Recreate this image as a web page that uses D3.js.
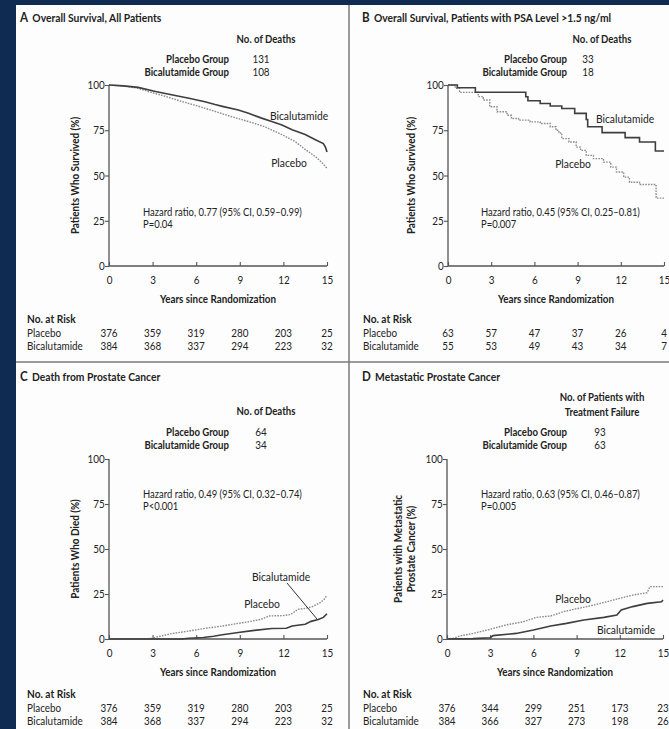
<!DOCTYPE html>
<html><head><meta charset="utf-8">
<script src="https://cdn.jsdelivr.net/npm/d3@7"></script>
<style>
html,body{margin:0;padding:0;background:#0f2b52;}
svg{display:block;}
text{font-family:Lato,"Open Sans",sans-serif;fill:#222;}
</style></head><body><svg id="c" width="669" height="729"></svg>
<script>
// ---------- DATA ----------
const riskYears = [0, 3, 6, 9, 12, 15];
const yTicks = [0, 25, 50, 75, 100];
const groupNames = ["Placebo Group", "Bicalutamide Group"];
const riskRowNames = ["Placebo", "Bicalutamide"];

const titlesA = ["A", "Overall Survival, All Patients"];
const titlesB = ["B", "Overall Survival, Patients with PSA Level >1.5 ng/ml"];
const titlesC = ["C", "Death from Prostate Cancer"];
const titlesD = ["D", "Metastatic Prostate Cancer"];

const eventsA = [131, 108];
const eventsB = [33, 18];
const eventsC = [64, 34];
const eventsD = [93, 63];

const hazardA = ["Hazard ratio, 0.77 (95% CI, 0.59\u20130.99)", "P=0.04"];
const hazardB = ["Hazard ratio, 0.45 (95% CI, 0.25\u20130.81)", "P=0.007"];
const hazardC = ["Hazard ratio, 0.49 (95% CI, 0.32\u20130.74)", "P<0.001"];
const hazardD = ["Hazard ratio, 0.63 (95% CI, 0.46\u20130.87)", "P=0.005"];

const riskA_placebo = [376, 359, 319, 280, 203, 25];
const riskA_bical   = [384, 368, 337, 294, 223, 32];
const riskB_placebo = [63, 57, 47, 37, 26, 4];
const riskB_bical   = [55, 53, 49, 43, 34, 7];
const riskC_placebo = [376, 359, 319, 280, 203, 25];
const riskC_bical   = [384, 368, 337, 294, 223, 32];
const riskD_placebo = [376, 344, 299, 251, 173, 23];
const riskD_bical   = [384, 366, 327, 273, 198, 26];

// [years, percent]
const curveA_bical = [[0,100],[1,99.5],[2,98.7],[3.2,96.4],[4.3,94.6],[5.5,92.7],[6.6,90.8],[7.3,89.2],[7.8,88.2],[8.9,86.2],[9.6,84.4],[10.5,81.7],[11.2,79.8],[11.9,77.9],[12.6,75.3],[13.5,72.6],[14.2,69.8],[14.75,67.6],[14.9,65.5],[15,63]];
const curveA_placebo = [[0,100],[1,99.4],[2,98.2],[2.7,96.4],[3.9,93.7],[5,90.9],[6.1,88.4],[7.3,85.4],[8.4,82.6],[9.6,79.8],[10.7,77],[11.9,72.6],[12.8,68.8],[13.5,64.4],[14.2,60.5],[14.6,57.5],[15,54]];
const curveB_bical = [[0,100],[0.65,98.5],[1.9,96],[5.4,93.5],[5.55,91.3],[6.4,89.8],[7.1,88.4],[7.9,87],[8.8,84.3],[9.6,80.9],[9.7,76.9],[10.7,73.7],[12.3,70.9],[13.3,68.5],[14.4,63.5],[15,63.5]];
const curveB_placebo = [[0,100],[0.5,98.2],[0.8,95.9],[2.1,93.6],[2.45,91.7],[2.9,88],[3.4,85.2],[4.1,83.3],[4.4,81.5],[4.9,80.6],[5.7,79.6],[6.4,78.7],[7.1,76.9],[7.5,75],[7.7,73.5],[7.9,70.4],[8.4,68.5],[8.9,65.7],[9.2,63.9],[9.6,61.1],[10.1,59.3],[10.8,57.4],[11.3,54.6],[11.7,51.9],[12.2,49.1],[12.6,46.3],[13.3,45],[14.35,44.4],[14.45,37.5],[15,37.5]];
const curveC_bical = [[0,0],[5,0],[5.5,0.4],[6.5,0.8],[7.2,1.5],[7.8,2.4],[8.9,3.6],[10,4.8],[11.2,5.8],[12.2,6],[12.6,7.2],[13.5,8.2],[13.9,9.8],[14.4,10.8],[14.75,12],[15,14]];
const curveC_placebo = [[0,0],[2.6,0],[3,0.5],[3.5,1.5],[4.3,3],[5.5,4.4],[6.6,5.9],[7.8,7.2],[8.9,8.7],[9.6,9.6],[10.5,11],[11,12.8],[12,13],[12.5,13.6],[13,16.5],[13.5,17],[14,18],[14.5,20],[14.8,22],[15,24.4]];
const curveD_bical = [[0,0],[1.8,0.2],[3,0.7],[3.2,1.9],[4.8,3.1],[6,5],[7.2,7.2],[8.3,8.7],[9.5,10.6],[10.9,12],[11.8,13.3],[12.1,16.1],[12.9,18],[13.9,19.8],[14.9,20.7],[15,21.7]];
const curveD_placebo = [[0,0],[0.45,0.4],[0.9,1.7],[1.8,3.1],[3,5.4],[4.1,7.8],[5.3,9.6],[6.2,12],[7.2,12.8],[8.1,15.2],[8.8,16.5],[9.9,18.3],[11.1,20.7],[12,22.6],[12.9,24.4],[13.9,25.7],[14.1,29.1],[15,29.1]];

// ---------- LAYOUT ----------
const svg = d3.select("#c");
svg.append("rect").attr("x",16).attr("y",5).attr("width",653).attr("height",724).attr("fill","#fdfdfd");

// condensation factor: fit the hazard-ratio line to its width in the reference (~159px)
const HZ = 11;
const probe = svg.append("text").attr("font-size",HZ).text(hazardA[0]);
const S = Math.min(1, 159 / probe.node().getComputedTextLength());
probe.remove();

function T(parent, x, y, str, o = {}) {
  const sx = S * (o.sx || 1);
  return parent.append("text")
    .attr("transform", `translate(${x},${y})${o.rot ? " rotate(-90)" : ""} scale(${sx},1)`)
    .attr("text-anchor", o.anchor || "start").attr("dominant-baseline", "central")
    .attr("font-size", o.size || 11.5).attr("font-weight", o.bold ? "bold" : "normal")
    .text(str);
}

const panels = [
  {title:titlesA, events:eventsA, hazard:hazardA, risk:[riskA_placebo,riskA_bical], bical:curveA_bical, placebo:curveA_placebo, step:false,
   x0:109,x1:327,yT:85,yB:266, titleX:20,titleY:17, hdr:["No. of Deaths"], hdrX:266, hdrY:38, grpX:229, numX:261, grpY:58,
   ylab:["Patients Who Survived (%)"], ylabX:74, hzX:143, hzY:212, riskX:27, riskY:318,
   lblB:[299,115], lblP:[289,162], leader:null},
  {title:titlesB, events:eventsB, hazard:hazardB, risk:[riskB_placebo,riskB_bical], bical:curveB_bical, placebo:curveB_placebo, step:true,
   x0:448,x1:664,yT:85,yB:266, titleX:362,titleY:17, hdr:["No. of Deaths"], hdrX:602, hdrY:38, grpX:567, numX:588, grpY:58,
   ylab:["Patients Who Survived (%)"], ylabX:410, hzX:481, hzY:212, riskX:363, riskY:318,
   lblB:[625,118], lblP:[573,163], leader:null},
  {title:titlesC, events:eventsC, hazard:hazardC, risk:[riskC_placebo,riskC_bical], bical:curveC_bical, placebo:curveC_placebo, step:false,
   x0:109,x1:327,yT:459,yB:639, titleX:20,titleY:376, hdr:["No. of Deaths"], hdrX:266, hdrY:410, grpX:229, numX:261, grpY:431,
   ylab:["Patients Who Died (%)"], ylabX:74, hzX:143, hzY:494, riskX:27, riskY:693,
   lblB:[281,576], lblP:[262,603], leader:[[287,583],[317,619]]},
  {title:titlesD, events:eventsD, hazard:hazardD, risk:[riskD_placebo,riskD_bical], bical:curveD_bical, placebo:curveD_placebo, step:false,
   x0:447,x1:663,yT:459,yB:639, titleX:362,titleY:376, hdr:["No. of Patients with","Treatment Failure"], hdrX:602, hdrY:396, grpX:567, numX:600, grpY:431,
   ylab:["Patients with Metastatic","Prostate Cancer (%)"], ylabX:404, hzX:481, hzY:494, riskX:363, riskY:693,
   lblB:[626,629], lblP:[573,598], leader:null}
];

// dividers
svg.append("line").attr("x1",349).attr("x2",349).attr("y1",5).attr("y2",729).attr("stroke","#7a7a7a").attr("stroke-width",1.5);
svg.append("line").attr("x1",16).attr("x2",669).attr("y1",362).attr("y2",362).attr("stroke","#7a7a7a").attr("stroke-width",1.5);

panels.forEach(p => {
  const g = svg.append("g");
  const x = d3.scaleLinear().domain([0,15]).range([p.x0,p.x1]);
  const y = d3.scaleLinear().domain([0,100]).range([p.yB,p.yT]);

  // title
  const t = T(g, p.titleX, p.titleY, null, {size:12, bold:true, sx:1.0});
  t.append("tspan").text(p.title[0]).attr("font-size",13.5);
  t.append("tspan").attr("dx",5).text(p.title[1]);

  // header
  p.hdr.forEach((h,i)=> T(g, p.hdrX, p.hdrY+i*15, h, {anchor:"middle", size:12, bold:true, sx:0.933}));
  groupNames.forEach((n,i)=>{
    T(g, p.grpX, p.grpY+i*13.5, n, {anchor:"end", size:12, bold:true, sx:0.933});
    T(g, p.numX, p.grpY+i*13.5, p.events[i], {anchor:"middle", size:11.5});
  });

  // axes
  const ya = g.append("g").attr("transform",`translate(${p.x0},0)`)
    .call(d3.axisLeft(y).tickValues(yTicks).tickSize(4).tickPadding(1));
  const xa = g.append("g").attr("transform",`translate(0,${p.yB})`)
    .call(d3.axisBottom(x).tickValues(riskYears).tickSize(-4).tickPadding(10));
  [ya,xa].forEach(a=>{
    a.select(".domain").attr("stroke","#555").attr("stroke-width",1.3);
    a.selectAll(".tick line").attr("stroke","#555").attr("stroke-width",1.1);
    a.selectAll("text").attr("font-size",11.5).attr("fill","#333").attr("transform",`scale(${S},1)`)
      .style("font-family",'Lato,"Open Sans",sans-serif');
  });
  ya.select(".domain").attr("d",`M0,${p.yB}V${p.yT}`);
  xa.select(".domain").attr("d",`M${p.x0},0H${p.x1}`);

  // axis titles
  T(g, (p.x0+p.x1)/2, p.yB+32, "Years since Randomization", {anchor:"middle", size:12, bold:true, sx:0.953});
  const yc = (p.yT+p.yB)/2;
  const n = p.ylab.length;
  p.ylab.forEach((l,i)=> T(g, p.ylabX + (i-(n-1)/2)*13, yc, l, {anchor:"middle", size:12, bold:true, rot:true, sx:0.964}));

  // hazard
  p.hazard.forEach((h,i)=> T(g, p.hzX, p.hzY+i*12, h, {size:HZ}));

  // curves
  const line = d3.line().x(d=>x(d[0])).y(d=>y(d[1])).curve(p.step?d3.curveStepAfter:d3.curveLinear);
  g.append("path").datum(p.placebo).attr("d",line).attr("fill","none").attr("stroke","#8c8c8c")
    .attr("stroke-width",1.4).attr("stroke-dasharray","1.6,1.2");
  g.append("path").datum(p.bical).attr("d",line).attr("fill","none").attr("stroke","#3e3e3e").attr("stroke-width",1.6);

  // curve labels
  T(g, p.lblB[0], p.lblB[1], "Bicalutamide", {anchor:"middle", size:12});
  T(g, p.lblP[0], p.lblP[1], "Placebo", {anchor:"middle", size:12});
  if (p.leader) g.append("line").attr("x1",p.leader[0][0]).attr("y1",p.leader[0][1]).attr("x2",p.leader[1][0]).attr("y2",p.leader[1][1])
    .attr("stroke","#333").attr("stroke-width",1);

  // number at risk
  T(g, p.riskX, p.riskY, "No. at Risk", {size:12, bold:true, sx:0.984});
  riskRowNames.forEach((r,i)=>{
    const yy = p.riskY + 14 + i*13;
    T(g, p.riskX, yy, r, {size:11.5});
    riskYears.forEach((yr,j)=> T(g, x(yr), yy, p.risk[i][j], {anchor:"middle", size:11.5}));
  });
});
</script></body></html>
